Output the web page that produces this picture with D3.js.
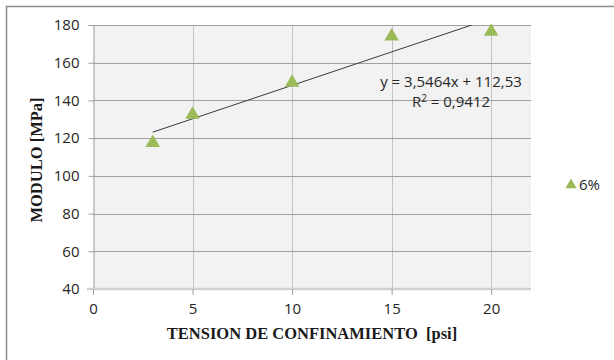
<!DOCTYPE html>
<html>
<head>
<meta charset="utf-8">
<script src="https://cdn.jsdelivr.net/npm/d3@7/dist/d3.min.js"></script>
<style>
  html, body { margin: 0; padding: 0; background: #fff; }
  svg { display: block; }
</style>
</head>
<body>
<svg id="chart" width="614" height="360"></svg>
<script>
// Confining stress [psi] and measured modulus [MPa]
const tension = [3, 5, 10, 15, 20];
const modulo = [118, 133, 150, 174.5, 177];
const seriesName = "6%";
// Linear trend coefficients
const slope = 3.5464;
const intercept = 112.53;
const r2 = 0.9412;
const xTicks = [0, 5, 10, 15, 20];
const yTicks = [40, 60, 80, 100, 120, 140, 160, 180];

const svg = d3.select("#chart");
const W = 614, H = 360;
const plot = { left: 93, right: 531, top: 25, bottom: 289 };

const x = d3.scaleLinear().domain([0, 22]).range([plot.left, plot.right]);
const y = d3.scaleLinear().domain([40, 180]).range([plot.bottom, plot.top]);

const labelFont = "'Open Sans', 'Noto Sans', sans-serif";
const labelSize = 15;

// Outer chart frame
svg.append("rect")
  .attr("x", 6.5).attr("y", 6.5)
  .attr("width", W + 10).attr("height", H + 10)
  .attr("fill", "#fff").attr("stroke", "#8c8c8c").attr("stroke-width", 1.5);

// Plot background
svg.append("rect")
  .attr("x", plot.left).attr("y", plot.top)
  .attr("width", plot.right - plot.left).attr("height", plot.bottom - plot.top)
  .attr("fill", "#f2f2f2");

// Vertical gridlines
svg.append("g")
  .selectAll("line")
  .data(xTicks.filter(d => d > 0))
  .join("line")
  .attr("x1", d => Math.round(x(d)) + 0.5).attr("x2", d => Math.round(x(d)) + 0.5)
  .attr("y1", plot.top).attr("y2", plot.bottom)
  .attr("stroke", "#c4c4c4").attr("stroke-width", 1);

// Horizontal gridlines
svg.append("g")
  .selectAll("line")
  .data(yTicks.filter(d => d > 40))
  .join("line")
  .attr("x1", plot.left).attr("x2", plot.right)
  .attr("y1", d => Math.round(y(d)) + 0.5).attr("y2", d => Math.round(y(d)) + 0.5)
  .attr("stroke", "#a0a0a0").attr("stroke-width", 1);

// Y axis
const yAxis = svg.append("g")
  .attr("transform", `translate(${plot.left + 0.5},0)`)
  .call(d3.axisLeft(y).tickValues(yTicks).tickSize(5).tickPadding(9).tickFormat(d3.format("d")));
yAxis.select(".domain").attr("stroke", "#a0a0a0");
yAxis.selectAll(".tick line").attr("stroke", "#a0a0a0");
yAxis.selectAll(".tick text")
  .attr("font-family", labelFont).attr("font-size", labelSize).attr("fill", "#262626");

// X axis
const xAxis = svg.append("g")
  .attr("transform", `translate(0,${plot.bottom})`)
  .call(d3.axisBottom(x).tickValues(xTicks).tickSize(6).tickPadding(8).tickFormat(d3.format("d")));
xAxis.select(".domain").attr("stroke", "#d0d0d0").attr("stroke-width", 2.5)
  .attr("d", `M${plot.left - 6},0H${plot.right}`);
xAxis.selectAll(".tick line").attr("stroke", "#a0a0a0");
xAxis.selectAll(".tick text")
  .attr("font-family", labelFont).attr("font-size", labelSize).attr("fill", "#262626");

// Trend line, clipped to the plot area
svg.append("clipPath").attr("id", "plotClip")
  .append("rect")
  .attr("x", plot.left).attr("y", plot.top)
  .attr("width", plot.right - plot.left).attr("height", plot.bottom - plot.top);

const xMin = d3.min(tension), xMax = d3.max(tension);
svg.append("line")
  .attr("clip-path", "url(#plotClip)")
  .attr("x1", x(xMin)).attr("y1", y(slope * xMin + intercept))
  .attr("x2", x(xMax)).attr("y2", y(slope * xMax + intercept))
  .attr("stroke", "#3a3a3a").attr("stroke-width", 1);

// Markers
const tri = d3.symbol().type(d3.symbolTriangle).size(92);
svg.append("g")
  .selectAll("path")
  .data(tension.map((t, i) => [t, modulo[i]]))
  .join("path")
  .attr("d", tri)
  .attr("transform", d => `translate(${x(d[0])},${y(d[1]) + 1})`)
  .attr("fill", "#9bbb59");

// Equation label
const fmt = v => String(v).replace(".", ",");
const eq = svg.append("text")
  .attr("x", 451).attr("y", 87)
  .attr("text-anchor", "middle")
  .attr("font-family", labelFont).attr("font-size", labelSize).attr("fill", "#262626");
eq.append("tspan").attr("x", 451).text(`y = ${fmt(slope)}x + ${fmt(intercept)}`);
const r = eq.append("tspan").attr("x", 451).attr("dy", 19.5);
r.append("tspan").text("R");
r.append("tspan").attr("font-size", 10).attr("dy", -5).text("2");
r.append("tspan").attr("dy", 5).text(` = ${fmt(r2)}`);

// Axis titles
svg.append("text")
  .attr("x", 312).attr("y", 339)
  .attr("text-anchor", "middle")
  .attr("font-family", "'Liberation Serif', 'Times New Roman', serif")
  .attr("font-weight", "bold").attr("font-size", 16.5).attr("fill", "#1a1a1a")
  .attr("xml:space", "preserve")
  .text("TENSION DE CONFINAMIENTO  [psi]");

svg.append("text")
  .attr("transform", "translate(42,160) rotate(-90)")
  .attr("text-anchor", "middle")
  .attr("font-family", "'Liberation Serif', 'Times New Roman', serif")
  .attr("font-weight", "bold").attr("font-size", 16.5).attr("fill", "#1a1a1a")
  .text("MODULO [MPa]");

// Legend
const legend = svg.append("g").attr("transform", "translate(571,185)");
legend.append("path").attr("d", d3.symbol().type(d3.symbolTriangle).size(55)).attr("fill", "#9bbb59");
legend.append("text")
  .attr("x", 8).attr("y", 5)
  .attr("font-family", labelFont).attr("font-size", labelSize).attr("fill", "#262626")
  .text(seriesName);
</script>
</body>
</html>
